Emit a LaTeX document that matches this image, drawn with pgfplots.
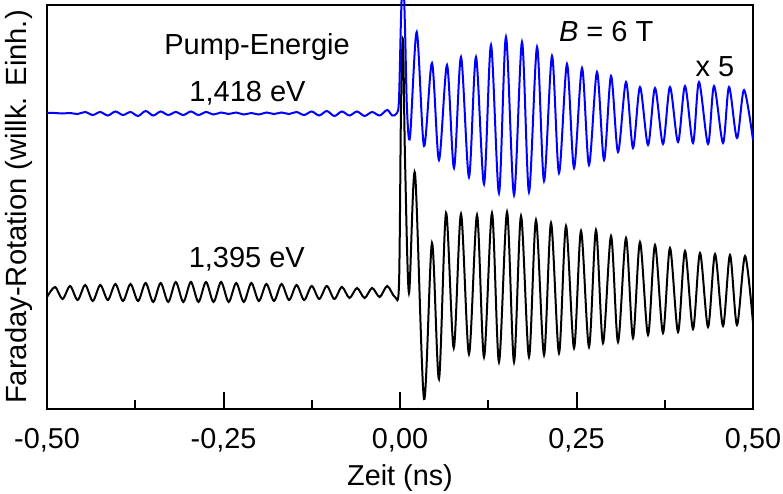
\documentclass[border=0pt]{standalone}
\usepackage{pgfplots}
\pgfplotsset{compat=1.18}
\usepackage{fontspec}
\setmainfont{Liberation Sans}
\definecolor{tblue}{RGB}{0,0,255}
\begin{document}
\begin{tikzpicture}
\begin{axis}[
  scale only axis, width=353pt, height=202pt,
  xmin=-0.5, xmax=0.5, ymin=0, ymax=404,
  clip=false,
  axis line style={line width=1pt},
  xtick={-0.5,-0.25,0,0.25,0.5},
  minor xtick={-0.375,-0.125,0.125,0.375},
  xtick pos=bottom, ytick=\empty,
  tick align=inside,
  major tick length=8.5pt, minor tick length=4.5pt,
  every tick/.style={black, line width=1pt},
  xticklabel={\pgfmathprintnumber[assume math mode=true,fixed,fixed zerofill,precision=2,use comma]{\tick}},
  xticklabel style={font=\fontsize{14.4}{17}\selectfont, anchor=base, yshift=-19.5pt},
  xlabel={Zeit (ns)},
  xlabel style={font=\fontsize{14.4}{17}\selectfont, at={(axis description cs:0.5,-0.172)}, anchor=center},
  ylabel={Faraday-Rotation (willk. Einh.)},
  ylabel style={font=\fontsize{14.6}{17}\selectfont, at={(axis description cs:-0.0395,0.5)}, anchor=center},
]
% black trace (1,395 eV)
\addplot[black, line width=1pt, smooth] coordinates {
(-0.5000,112) (-0.4887,122) (-0.4780,110) (-0.4673,123) (-0.4566,109) (-0.4459,124) (-0.4352,108) (-0.4245,124) (-0.4138,109) (-0.4031,125) (-0.3924,108) (-0.3817,125) (-0.3710,108) (-0.3603,126) (-0.3496,107) (-0.3390,126) (-0.3283,107) (-0.3176,127) (-0.3069,107) (-0.2962,127) (-0.2855,107) (-0.2748,127) (-0.2641,107) (-0.2534,127) (-0.2427,107) (-0.2320,126) (-0.2213,107) (-0.2106,126) (-0.1999,108) (-0.1892,125) (-0.1785,108) (-0.1678,125) (-0.1571,109) (-0.1465,124) (-0.1358,109) (-0.1251,123) (-0.1144,110) (-0.1037,123) (-0.0930,110) (-0.0823,122) (-0.0716,111) (-0.0609,121) (-0.0502,111) (-0.0395,121) (-0.0288,112) (-0.0181,123) (-0.0071,112) (-0.0014,125) (0.0014,300) (0.0042,370) (0.0071,250) (0.0127,116)
(0.0212,236) (0.0340,10) (0.0453,166) (0.0552,30) (0.0652,196) (0.0761,61) (0.0864,195) (0.0977,55) (0.1091,194) (0.1190,52) (0.1303,196) (0.1402,47) (0.1516,197) (0.1615,47) (0.1714,193) (0.1827,52) (0.1926,189) (0.2040,54) (0.2139,186) (0.2252,56) (0.2351,183) (0.2465,61) (0.2564,178) (0.2677,62) (0.2776,179) (0.2875,66) (0.2989,173) (0.3088,67) (0.3201,171) (0.3300,71) (0.3399,167) (0.3513,74) (0.3612,164) (0.3725,76) (0.3824,161) (0.3938,77) (0.4037,158) (0.4150,80) (0.4249,156) (0.4363,82) (0.4462,155) (0.4575,83) (0.4674,154) (0.4773,84) (0.4887,153) (0.5000,86)
};
% blue trace (1,418 eV)
\addplot[tblue, line width=1pt, smooth] coordinates {
(-0.5000,296) (-0.4887,296) (-0.4780,295.5) (-0.4673,296) (-0.4566,295) (-0.4459,297) (-0.4352,294) (-0.4245,297) (-0.4138,293.5) (-0.4031,297.5) (-0.3924,294) (-0.3817,297) (-0.3710,293) (-0.3603,298) (-0.3496,293.5) (-0.3390,297.5) (-0.3283,294) (-0.3176,297) (-0.3069,294) (-0.2962,297.5) (-0.2855,294) (-0.2748,297) (-0.2641,294.5) (-0.2534,296.5) (-0.2427,295) (-0.2320,296.5) (-0.2213,294.5) (-0.2106,296) (-0.1999,294.5) (-0.1892,296.5) (-0.1785,295) (-0.1678,296.5) (-0.1571,295) (-0.1465,297) (-0.1358,294) (-0.1251,297.5) (-0.1144,293.5) (-0.1037,298) (-0.0930,293) (-0.0823,297.5) (-0.0716,293.5) (-0.0609,297.5) (-0.0502,293) (-0.0395,297) (-0.0288,293.5) (-0.0181,299) (-0.0110,293.5) (-0.0042,296) (-0.0014,310) (0.0014,390) (0.0042,440) (0.0071,380) (0.0099,300)
(0.0142,272) (0.0237,377) (0.0340,263) (0.0453,346) (0.0552,249) (0.0666,344) (0.0765,241) (0.0864,352) (0.0977,232) (0.1076,352) (0.1190,225) (0.1289,364) (0.1402,216) (0.1501,372) (0.1615,214) (0.1728,367) (0.1827,217) (0.1941,362) (0.2040,228) (0.2153,353) (0.2252,236) (0.2365,345) (0.2465,241) (0.2578,341) (0.2677,244) (0.2790,337) (0.2890,249) (0.2989,333) (0.3088,257) (0.3201,327) (0.3300,261) (0.3399,322) (0.3513,264) (0.3612,321) (0.3725,265) (0.3824,322) (0.3938,267) (0.4037,323) (0.4150,266) (0.4235,327) (0.4363,265) (0.4448,323) (0.4575,266) (0.4660,322) (0.4773,271) (0.4873,319) (0.5000,269)
};
\node[anchor=base, font=\fontsize{14.5}{17}\selectfont] at (axis cs:-0.2025,354) {Pump-Energie};
\node[anchor=base, font=\fontsize{14.5}{17}\selectfont] at (axis cs:-0.216,307) {1,418 eV};
\node[anchor=base, font=\fontsize{14.5}{17}\selectfont] at (axis cs:-0.217,142) {1,395 eV};
\node[anchor=base, font=\fontsize{14.5}{17}\selectfont] at (axis cs:0.292,367) {\textit{B} = 6 T};
\node[anchor=base, font=\fontsize{14.5}{17}\selectfont] at (axis cs:0.446,332) {x 5};
\end{axis}
\pgfresetboundingbox
\path ([shift={(-23.5pt,-42pt)}]current axis.south west) rectangle ([shift={(15pt,2.5pt)}]current axis.north east);
\end{tikzpicture}
\end{document}
